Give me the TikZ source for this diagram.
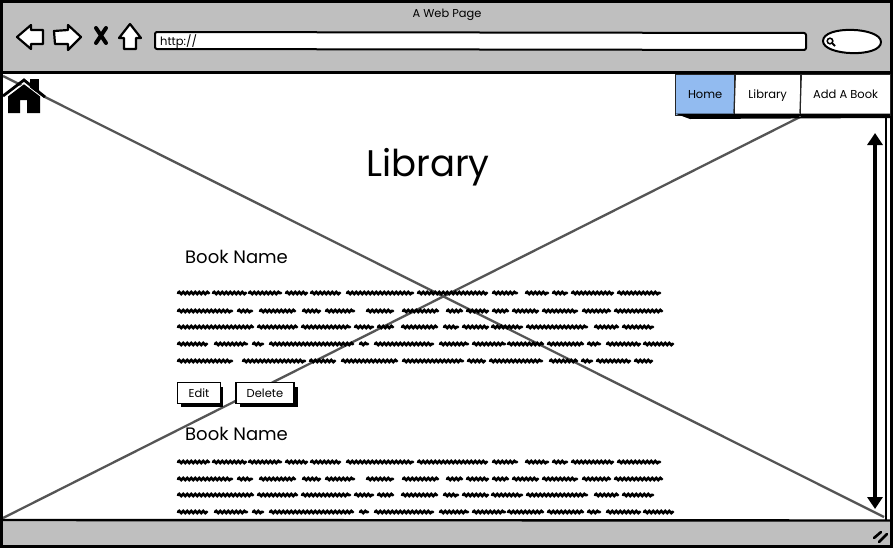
\documentclass[tikz,border=0pt]{standalone}
\usepackage{tikz}
\usepackage{xcolor}
\usepackage{fontspec}
\setmainfont{Poppins}
\usetikzlibrary{decorations.pathmorphing,arrows.meta}
\definecolor{chrome}{HTML}{BFBFBF}
\definecolor{navblue}{HTML}{92BBF0}
\definecolor{crossgrey}{HTML}{555555}
\begin{document}
\begin{tikzpicture}[x=1pt,y=-1pt,
  inkline/.style={draw=black,line width=2pt,line join=round},
  navtab/.style={draw=black!85,line width=1.3pt,minimum height=41,anchor=north west,inner sep=0pt,text height=8.5pt,text depth=2.5pt,font=\fontsize{11.5}{13}\selectfont},
  smallbtn/.style={draw=black,line width=1.6pt,fill=white,minimum height=21,inner sep=0pt,font=\fontsize{11.5}{13}\selectfont},
  greek/.style={line width=2.8pt,black,line cap=round,decorate,decoration={snake,amplitude=1pt,segment length=4pt}},
  toolicon/.style={draw=black,line width=2.2pt,fill=white,line join=round},
  crossline/.style={draw=crossgrey,line width=2.3pt}]
\useasboundingbox (0,0) rectangle (894,549);
% browser frame
\fill[white] (0,0) rectangle (894,549);
\fill[chrome] (2,2) rectangle (892,72);
\fill[chrome] (2,521) rectangle (892,546);
\coordinate (tl) at (3,76);
\coordinate (tr) at (800,117);
\coordinate (bl) at (3,518);
\coordinate (br) at (884,517);
% placeholder cross
\draw[crossline] (tl) -- (br);
\draw[crossline] (bl) -- (tr);
\draw[draw=black,line width=2.2pt] (1.5,1.5) rectangle (891.5,546.5);
\draw[draw=black,line width=2.2pt] (1,72.5) -- (892,72.5);
\draw[draw=black,line width=2.4pt] (1,520) -- (892,520.5);
\node[inner sep=0pt] (pagetitle) at (447,15) {\fontsize{11.4}{13}\selectfont A Web Page};
% toolbar icons
\draw[toolicon] (17,37) -- (31,25) -- (31,30) -- (43,30) -- (43,44) -- (31,44) -- (31,49) -- cycle;
\draw[toolicon] (54,31) -- (68,30) -- (68,25) -- (81,37) -- (68,50) -- (68,44) -- (55,44) -- cycle;
\draw[black,line width=4pt,line cap=round] (96,28) -- (106,43) (106,28) -- (96,43);
\draw[toolicon] (130,24) -- (141,38) -- (136,38) -- (136,49) -- (124,49) -- (124,38) -- (119,38) -- cycle;
\draw[inkline,fill=white,rounded corners=2pt] (155,32) -- (806,33) -- (806,50) -- (155,49) -- cycle;
\node[anchor=west,font=\fontsize{11.5}{13}\selectfont,inner sep=0pt] (urltext) at (160,41.5) {http://};
\draw[inkline,fill=white] (823,41) .. controls (823,25) and (881,27) .. (881,42) .. controls (881,58) and (823,56) .. (823,41) -- cycle;
\draw[black,line width=1.5pt] (830,41) circle (2.8);
\draw[black,line width=1.8pt] (832,43) -- (835,46);
% home icon
\fill[black] (8,113) -- (8,96) -- (24,84) -- (40,96) -- (40,113) -- (27,113) -- (27,100) -- (20,100) -- (20,113) -- cycle;
\fill[black] (30,79) rectangle (39,92);
\draw[white,line width=0.8pt] (5,98) -- (24,83.5) -- (43,98);
\draw[black,line width=2.8pt] (3,96) -- (24,80) -- (45,97);
% navigation tabs
\node[navtab,fill=navblue,minimum width=59] (homenav) at (675,74) {Home};
\node[navtab,fill=white,minimum width=66] (librarynav) at (734,74) {Library};
\node[navtab,fill=white,minimum width=90] (addnav) at (800,74) {Add A Book};
\fill[black] (675,113.5) -- (890,113.5) -- (890,118) -- (690,119) -- cycle;
\draw[draw=black!85,line width=1.3pt] (homenav.north east) -- (734,113.5) (librarynav.north east) -- (800,113.5);
\draw[crossline] (addnav.south west) -- (tr);
% scroll arrow
\draw[black,line width=1.8pt] (886,118) -- (886,520);
\draw[{Triangle[length=12pt,width=15pt]}-{Triangle[length=12pt,width=15pt]},line width=3.6pt,black] (875,133) -- (875,509);
% page text
\node[font=\fontsize{37}{40}\selectfont] (booktitle) at (428,167) {Library};
\node[anchor=west,inner sep=0pt,font=\fontsize{18}{20}\selectfont] (firstname) at (185,257) {Book Name};
\node[anchor=west,inner sep=0pt,font=\fontsize{18}{20}\selectfont] (secondname) at (185,434) {Book Name};
% greeked text, one row per y value
\foreach \rowy/\rowwords in {
  293/{178/209,213/246,249/281,286/307,311/340,347/413,418/487,493/517,526/548,553/567,572/613,618/660},
  311/{178/232,238/252,260/295,303/320,326/354,367/393,403/438,447/462,467/488,493/508,513/538,543/577,583/610,615/662},
  327/{178/253,258/297,302/350,355/373,378/393,402/437,444/458,463/488,492/522,527/587,595/618,623/653},
  344/{178/207,215/247,253/263,270/353,360/368,375/433,440/468,473/505,508/543,548/583,588/600,607/640,644/673},
  361/{178/232,243/305,310/335,342/397,403/463,468/485,490/542,550/577,582/592,597/630,635/652},
  462/{178/209,213/246,249/281,286/307,311/340,347/413,418/487,493/517,526/548,553/567,572/613,618/660},
  479/{178/232,238/252,260/295,303/320,326/354,367/393,403/438,447/462,467/488,493/508,513/538,543/577,583/610,615/662},
  495/{178/253,258/297,302/350,355/373,378/393,402/437,444/458,463/488,492/522,527/587,595/618,623/653},
  512/{178/207,215/247,253/263,270/353,360/368,375/433,440/468,473/505,508/543,548/583,588/600,607/640,644/673}}
{ \foreach \wordx/\wordend in \rowwords
  { \draw[greek] (\wordx,\rowy) -- (\wordend,\rowy); } }
% buttons
\fill[black] (181,387) rectangle (223,407);
\node[smallbtn,minimum width=43] (editbtn) at (199,393) {Edit};
\fill[black] (240,387) rectangle (298,407);
\node[smallbtn,minimum width=58] (deletebtn) at (265,393) {Delete};
% resize grip
\draw[black,line width=2.6pt,line cap=round] (874,538) -- (881,532) (879,542) -- (887,534);
\end{tikzpicture}
\end{document}
